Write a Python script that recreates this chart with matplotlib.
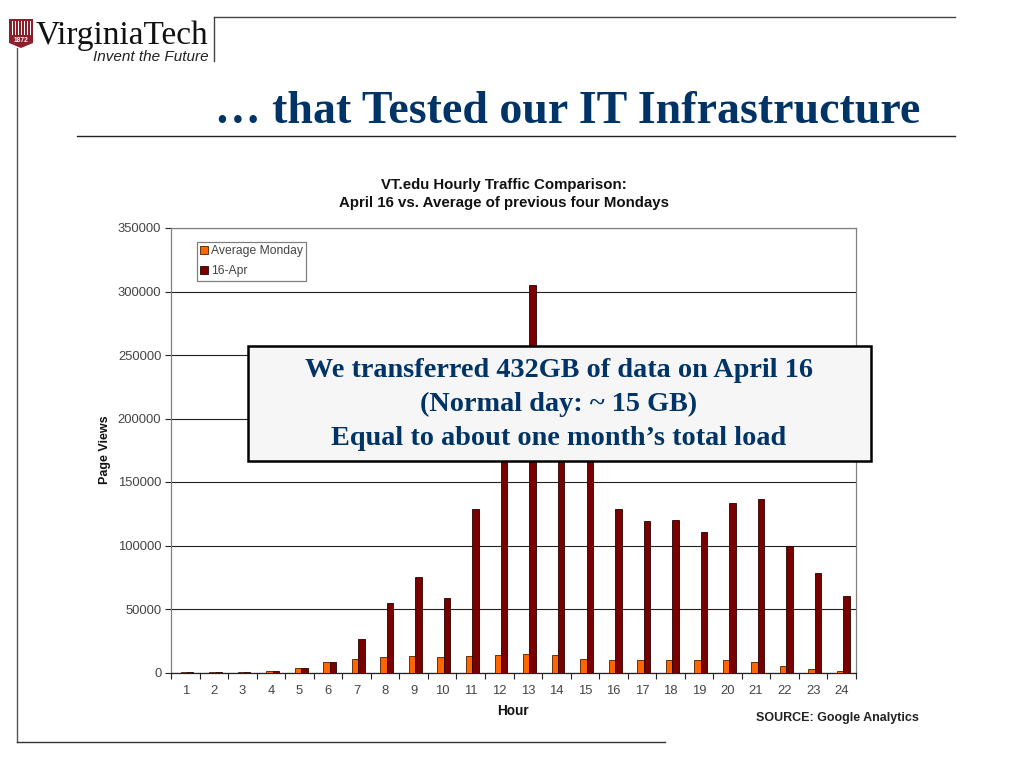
import matplotlib
matplotlib.use("Agg")
import matplotlib.pyplot as plt
from matplotlib.patches import Rectangle, Polygon
import numpy as np

hours = [str(h) for h in range(1, 25)]
avg_monday = [500, 500, 500, 1200, 3500, 8000, 10500, 12500, 13000, 12500, 13000, 13500,
              14500, 13500, 10500, 9500, 9500, 10000, 10000, 10000, 8000, 5500, 3000, 1000]
apr_16 = [500, 500, 500, 1000, 3500, 8500, 26000, 54500, 75000, 58500, 129000, 195000,
          305000, 200000, 175000, 129000, 119500, 120000, 111000, 133500, 137000, 100000, 78000, 60000]
y_ticks = [0, 50000, 100000, 150000, 200000, 250000, 300000, 350000]

W, H = 1024, 768
NAVY = "#003366"
GRAY = "#808080"

fig = plt.figure(figsize=(W / 100, H / 100), dpi=100, facecolor="white")
plt.rcParams["font.family"] = ["Liberation Sans", "DejaVu Sans"]

# chart axes placed at the reference pixel box
left, right, top, bottom = 171, 856, 228, 672.5
ax = fig.add_axes([left / W, 1 - bottom / H, (right - left) / W, (bottom - top) / H])

x = np.arange(len(hours))
bw = 0.225
ax.bar(x + 0.06 - bw / 2, avg_monday, bw, color="#FF6600", edgecolor="#4a2000", linewidth=0.6,
       label="Average Monday", zorder=3)
ax.bar(x + 0.06 + bw / 2, apr_16, bw, color="#7A0000", edgecolor="#2a0000", linewidth=0.6,
       label="16-Apr", zorder=3)

ax.set_xlim(-0.5, len(hours) - 0.5)
ax.set_ylim(0, 350000)
ax.set_yticks(y_ticks)
ax.set_yticklabels([str(v) for v in y_ticks], fontsize=9.4, color="#444444")
ax.set_xticks(x)
ax.set_xticklabels(hours, fontsize=9.4, color="#444444")
ax.set_xticks(np.arange(-0.5, len(hours)), minor=True)
ax.tick_params(axis="x", which="major", length=0, pad=9)
ax.tick_params(axis="x", which="minor", length=4, width=0.8, color="#222222")
ax.tick_params(axis="y", length=4, width=0.8, color="#222222", pad=3)
ax.yaxis.grid(True, color="#222222", linewidth=0.8, zorder=1)
ax.set_axisbelow(True)
for s in ["left", "right", "top"]:
    ax.spines[s].set_color(GRAY)
    ax.spines[s].set_linewidth(0.9)
ax.spines["bottom"].set_color("#222222")
ax.spines["bottom"].set_linewidth(0.9)

leg = ax.legend(loc="upper left", bbox_to_anchor=((197 - left) / (right - left), 1 - (242 - top) / (bottom - top)),
                borderaxespad=0, fontsize=8.7, frameon=True, fancybox=False, framealpha=1,
                edgecolor=GRAY, handlelength=0.6, handleheight=0.6, handletextpad=0.25,
                labelspacing=0.65, borderpad=0.28, labelcolor="#444444")
leg.get_frame().set_linewidth(0.9)
leg.set_zorder(5)

# overlay in pixel coordinates for the slide furniture
ov = fig.add_axes([0, 0, 1, 1], facecolor="none")
ov.set_xlim(0, W)
ov.set_ylim(H, 0)
ov.axis("off")

# frame lines
ov.plot([17, 17], [48, 742], color="#555555", lw=1)
ov.plot([17, 665], [742, 742], color="#333333", lw=1)
ov.plot([214, 214], [61, 17], color="#444444", lw=1)
ov.plot([214, 955], [17, 17], color="#444444", lw=1)
ov.plot([77, 955], [136, 136], color="#222222", lw=1)

# logo
ov.add_patch(Polygon([(9, 19), (33, 19), (33, 43), (21, 48), (9, 43)], closed=True, color="#8B1F2B", lw=0))
for bx in [12, 15, 18, 21, 24, 27, 30]:
    ov.add_patch(Rectangle((bx, 21), 1.2, 14, color="white", lw=0))
ov.text(21, 41, "1872", fontsize=4.8, color="white", fontweight="bold", ha="center", va="center")
ov.text(36, 44, "VirginiaTech", family="Liberation Serif", fontsize=24, color="#111111",
        ha="left", va="baseline")
ov.text(209, 61, "Invent the Future", fontsize=11, style="italic", color="#222222",
        ha="right", va="baseline")

# title
ov.text(920, 123, "… that Tested our IT Infrastructure", family="Liberation Serif", fontsize=33,
        fontweight="bold", color=NAVY, ha="right", va="baseline")

# chart titles
ov.text(504, 184.5, "VT.edu Hourly Traffic Comparison:", fontsize=10.8, fontweight="bold",
        color="#111111", ha="center", va="center")
ov.text(504, 203.5, "April 16 vs. Average of previous four Mondays", fontsize=10.8, fontweight="bold",
        color="#111111", ha="center", va="center")
ov.text(513, 711, "Hour", fontsize=9.8, fontweight="bold", color="#111111", ha="center", va="center")
ov.text(105, 450, "Page Views", fontsize=9, fontweight="bold", color="#111111",
        rotation=90, ha="center", va="center")
ov.text(919, 717.5, "SOURCE: Google Analytics", fontsize=9, fontweight="bold", color="#222222",
        ha="right", va="center")

# callout box
ov.add_patch(Rectangle((247.5, 345.5), 623, 115.5, facecolor="#F6F6F6", edgecolor="black", lw=1.8, zorder=6))
callout = ["We transferred 432GB of data on April 16", "(Normal day: ~ 15 GB)",
           "Equal to about one month’s total load"]
for ty, line in zip([370.5, 404.5, 438.5], callout):
    ov.text(559, ty, line, family="Liberation Serif", fontsize=20.3, fontweight="bold", color=NAVY,
            ha="center", va="center", zorder=7)

fig.savefig("out.png", dpi=100)
